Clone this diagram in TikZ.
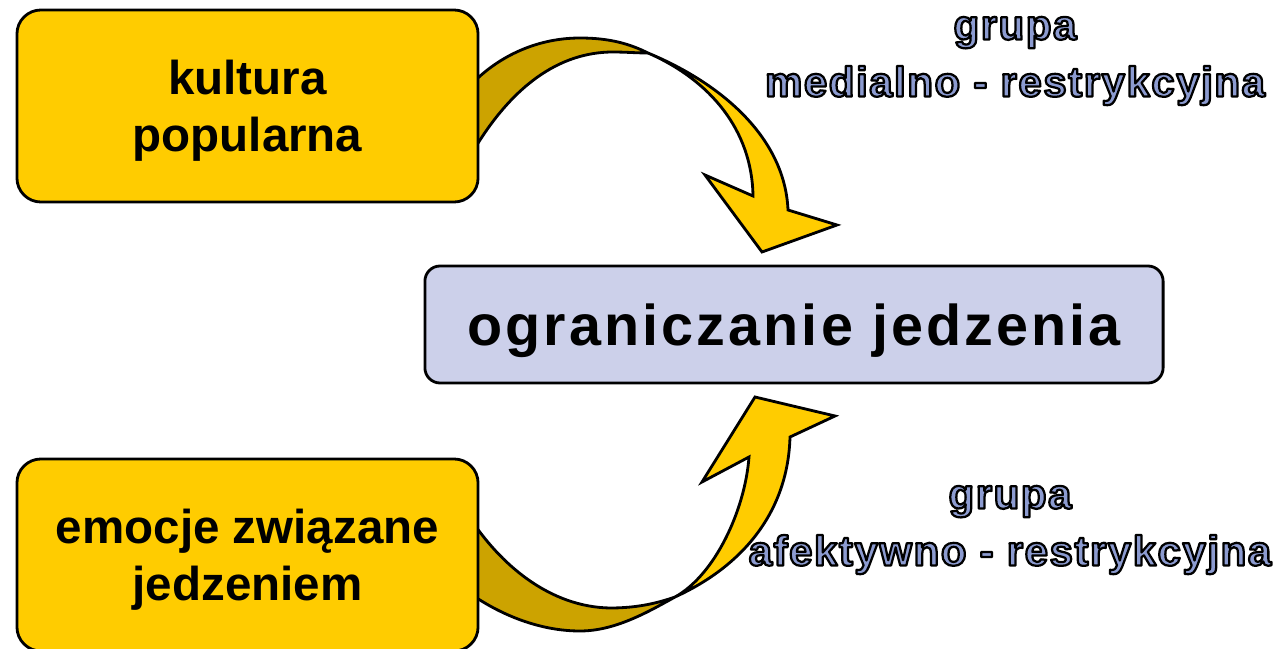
\documentclass[tikz,border=0pt]{standalone}
\usepackage{fontspec}
\setmainfont{Liberation Sans}
\usepackage{xcolor}

\definecolor{boxgold}{RGB}{255,204,0}
\definecolor{bandgold}{RGB}{204,163,0}
\definecolor{centrebox}{RGB}{204,208,234}
\definecolor{grupablue}{RGB}{140,155,208}

% outlined text: fill in the current colour, black stroke round the glyphs
\newcommand{\obrys}[1]{\special{pdf:literal direct 0 0 0 RG 1.6 w 1 j 2 Tr}#1\special{pdf:literal direct 0 Tr}}

\tikzset{
    sidebox/.style={draw=black, line width=2pt, fill=boxgold, rounded corners=0.6cm,
        minimum width=11.525cm, minimum height=4.8cm, align=center,
        font={\fontsize{33.8}{40.5}\selectfont\bfseries}},
    mainbox/.style={draw=black, line width=2pt, fill=centrebox, rounded corners=0.38cm,
        minimum width=18.45cm, minimum height=2.925cm,
        font={\fontsize{40.9}{48}\selectfont\bfseries\addfontfeature{LetterSpace=5.4}}},
    grupalabel/.style={text=grupablue, align=center,
        font={\fontsize{29.9}{40.5}\selectfont\bfseries\addfontfeature{LetterSpace=3.6}}},
    bandback/.style={draw=black, line width=2pt, fill=bandgold, line join=round},
    bandfront/.style={draw=black, line width=2pt, fill=boxgold, line join=miter}
}

\begin{document}
\begin{tikzpicture}[x=0.025cm, y=-0.025cm]
        \useasboundingbox (0,0) rectangle (1276,649);
        \clip (0,0) rectangle (1276,649);
        % upper arrow
        \draw [bandback] (468,88) .. controls (495,58) and (535,38) .. (580,38)
            .. controls (610,38) and (630,44) .. (648,53)
            .. controls (637,53) and (625,52) .. (613,52)
            .. controls (560,52) and (510,85) .. (468,160) -- cycle;
        \draw [bandfront] (648,53) .. controls (725,85) and (785,140) .. (788,210)
            -- (837,225) -- (762,252) -- (705,175) -- (753,196)
            .. controls (752,130) and (710,80) .. (648,53) -- cycle;
        % lower arrow
        \draw [bandback] (468,592) .. controls (500,615) and (540,631) .. (580,631)
            .. controls (615,631) and (648,612) .. (675,597)
            .. controls (655,604) and (635,608) .. (610,608)
            .. controls (550,607) and (500,565) .. (468,515) -- cycle;
        \draw [bandfront] (675,597) .. controls (745,565) and (788,510) .. (790,437)
            -- (835,416) -- (755,397) -- (702,482) -- (749,457)
            .. controls (745,510) and (715,575) .. (675,597) -- cycle;
        % boxes
        \node [sidebox, text height=72pt, text depth=7pt] (kultura) at (247.5,106) {kultura\\popularna};
        \node [sidebox, text height=71pt, text depth=7pt] (emocje) at (247.5,555) {emocje związane\\jedzeniem};
        \node [mainbox, text height=32pt, text depth=2.8pt] (ograniczanie) at (794,324.5) {ograniczanie jedzenia};
        % labels
        \node [grupalabel] (medialna) at (1015,61) {\obrys{grupa}\\\obrys{medialno - restrykcyjna}};
        \node [grupalabel] (afektywna) at (1010,530) {\obrys{grupa}\\\obrys{afektywno - restrykcyjna}};
\end{tikzpicture}
\end{document}
